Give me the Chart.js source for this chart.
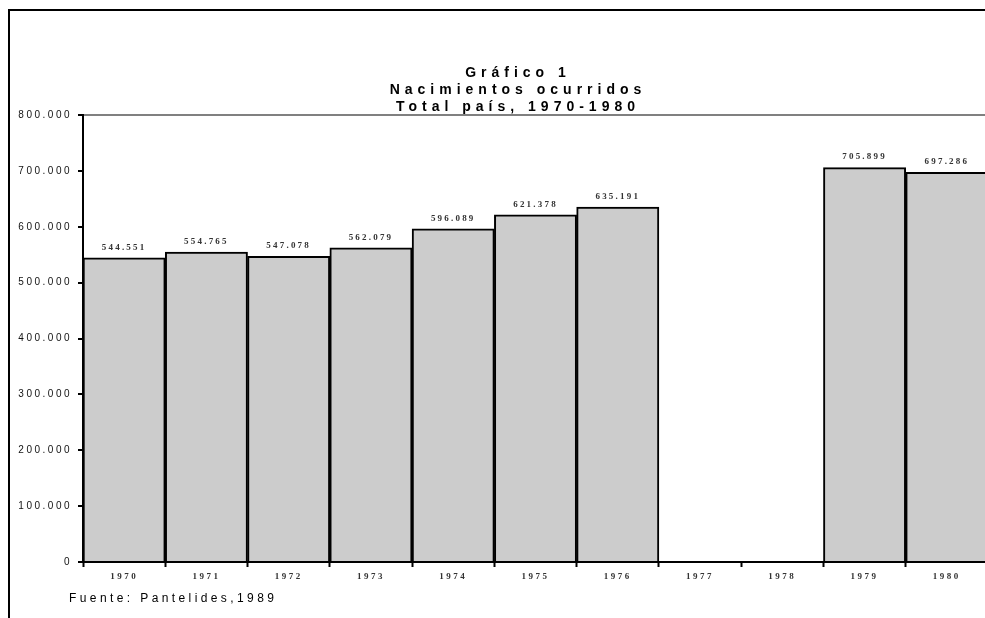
<!DOCTYPE html>
<html>
<head>
<meta charset="utf-8">
<script src="https://cdn.jsdelivr.net/npm/chart.js@4.4.0/dist/chart.umd.min.js"></script>
<style>
  html, body { margin: 0; padding: 0; background: #fff; overflow: hidden; }
  #marco {
    position: absolute; left: 8px; top: 9px; width: 977px; height: 609px;
    border-left: 2px solid #000; border-top: 2px solid #000; box-sizing: border-box;
  }
  #chart-area { position: absolute; left: 0; top: 0; }
  #fuente {
    position: absolute; left: 69px; top: 591px;
    font-family: "Liberation Sans", Arial, sans-serif; font-size: 12px;
    letter-spacing: 3.4px; color: #000;
  }
</style>
</head>
<body>
<div id="marco"></div>
<canvas id="chart-area"></canvas>
<div id="fuente">Fuente: Pantelides,1989</div>
<script>
var anios = ['1970', '1971', '1972', '1973', '1974', '1975', '1976', '1977', '1978', '1979', '1980'];
var nacimientos = [544551, 554765, 547078, 562079, 596089, 621378, 635191, null, null, 705899, 697286];
var titulo = ['Gráfico 1', 'Nacimientos ocurridos', 'Total país, 1970-1980'];

var context = document.getElementById("chart-area").getContext("2d");
context.canvas.width = 988;
context.canvas.height = 618;

function miles(v) {
	return v.toString().replace(/\B(?=(\d{3})+(?!\d))/g, '.');
}

// espaciado de letras para los ticks (chart.js no lo tiene)
var espaciado = {
	id: 'espaciado',
	beforeLayout: function (chart) { chart.ctx.letterSpacing = '2.5px'; },
	beforeDraw: function (chart) { chart.ctx.letterSpacing = '2.5px'; },
	afterDatasetsDraw: function (chart) {
		var ctx = chart.ctx;
		var meta = chart.getDatasetMeta(0);
		ctx.save();
		ctx.letterSpacing = '2.2px';
		ctx.font = 'bold 9px "Liberation Serif", serif';
		ctx.fillStyle = '#333';
		ctx.textAlign = 'center';
		ctx.textBaseline = 'bottom';
		meta.data.forEach(function (bar, i) {
			var v = nacimientos[i];
			if (v == null) return;
			ctx.fillText(miles(v), bar.x, bar.y - 6);
		});
		// titulo
		ctx.letterSpacing = '5px';
		ctx.font = 'bold 14px "Liberation Sans", Arial, sans-serif';
		ctx.fillStyle = '#000';
		ctx.textBaseline = 'middle';
		titulo.forEach(function (t, i) {
			ctx.fillText(t, 518, 73 + i * 17);
		});
		ctx.restore();
	}
};

var config = {
	type: 'bar',
	data: {
		labels: anios,
		datasets: [{
			data: nacimientos,
			backgroundColor: '#cccccc',
			borderColor: '#000',
			borderWidth: 2,
			borderSkipped: 'bottom',
			barPercentage: 1,
			categoryPercentage: 1
		}]
	},
	options: {
		responsive: false,
		animation: false,
		layout: { padding: { top: 115, left: 0, right: 0, bottom: 0 } },
		plugins: {
			legend: { display: false },
			title: { display: false },
			tooltip: { enabled: false }
		},
		scales: {
			x: {
				grid: { drawOnChartArea: false, tickColor: '#000', tickLength: 5, tickWidth: 2 },
				border: { color: '#000', width: 2 },
				ticks: {
					color: '#333',
					padding: 4,
					maxRotation: 0,
					autoSkip: false,
					font: { family: '"Liberation Serif", serif', size: 9, weight: 'bold' }
				},
				afterFit: function (s) { s.height = 56; }
			},
			y: {
				min: 0,
				max: 800000,
				grid: {
					color: function (c) { return c.tick && c.tick.value === 800000 ? '#808080' : 'rgba(0,0,0,0)'; },
					lineWidth: 2,
					tickColor: '#000',
					tickLength: 5,
					tickWidth: 2
				},
				border: { color: '#000', width: 2 },
				ticks: {
					stepSize: 100000,
					color: '#111',
					padding: 6,
					font: { family: '"Liberation Sans", Arial, sans-serif', size: 10 },
					callback: function (v) { return miles(v); }
				},
				afterFit: function (s) { s.width = 83; }
			}
		}
	},
	plugins: [espaciado]
};

window.myBars = new Chart(context, config);
</script>
</body>
</html>
